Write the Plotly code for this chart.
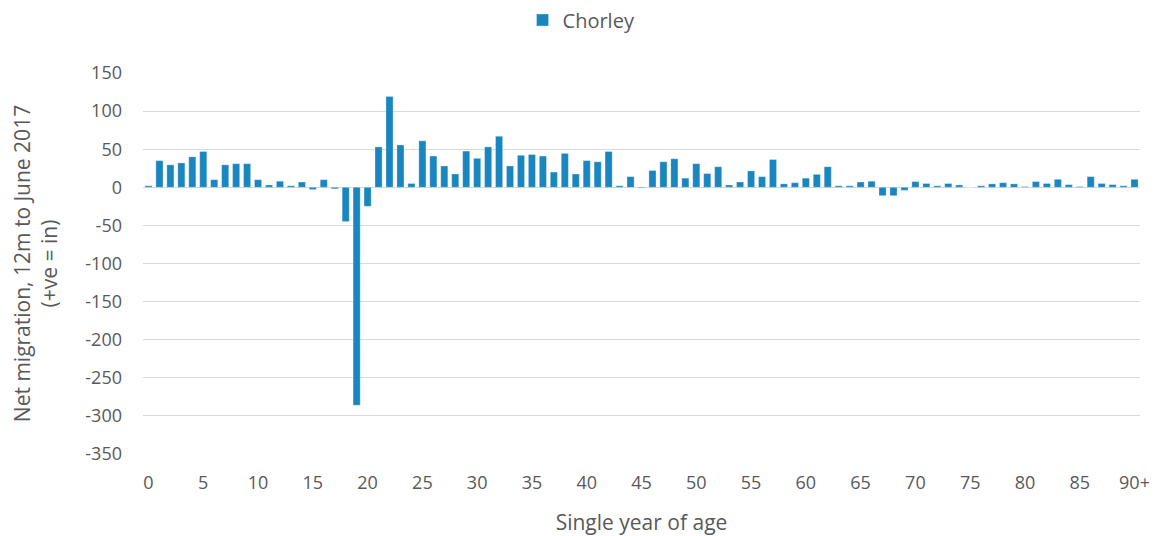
import plotly.graph_objects as go

ages = list(range(0, 91))
net_migration = [
    2, 35, 29.5, 32, 40, 47, 10, 29.5, 31, 31,
    10, 3, 8, 2, 7, -3, 10, -2, -45, -286,
    -25, 53, 119, 55.5, 5, 61, 41, 28, 17.5, 47.5,
    38, 53, 67, 28, 42, 43, 41, 20, 44.5, 17.5,
    35, 33.5, 47, 2, 14, -1, 22, 33.5, 37.5, 12,
    31, 18, 27, 3, 7, 21.5, 14, 36.5, 4.5, 6,
    12, 17, 27, 2, 2, 7, 8, -11, -11, -4,
    7.5, 5, 2, 5, 3, 0, 2, 4.5, 6, 4.5,
    1, 7.5, 5, 10.5, 3.5, 1, 14, 5, 3.5, 2, 10.5,
]
x_tick_vals = list(range(0, 91, 5))
x_tick_text = [str(v) for v in range(0, 90, 5)] + ["90+"]
y_tick_vals = list(range(-350, 151, 50))
y_tick_text = [str(v) for v in y_tick_vals]

font = "Open Sans, Liberation Sans, sans-serif"
grey = "#595959"
fig = go.Figure()
fig.add_trace(go.Bar(
    x=ages, y=net_migration, name="Chorley",
    marker=dict(color="#1a86c0", line=dict(width=0.6, color="rgba(255,255,255,0.5)")),
))
fig.update_layout(
    width=1154, height=528,
    margin=dict(l=135, r=22, t=65, b=82, autoexpand=False),
    paper_bgcolor="white", plot_bgcolor="white",
    bargap=0.35,
    showlegend=True,
    legend=dict(orientation="h", x=0.497, xanchor="center", xref="container",
                y=1 - 12 / 528, yanchor="middle",
                yref="container", font=dict(family=font, size=20, color=grey),
                itemwidth=30),
    font=dict(family=font, size=18, color=grey),
)
fig.update_xaxes(
    range=[-0.5, 90.5], tickvals=x_tick_vals, ticktext=x_tick_text,
    showgrid=False, zeroline=False, ticks="", ticklabelstandoff=16,
    automargin=False,
    tickfont=dict(size=18, color=grey),
    title=dict(text="Single year of age", font=dict(size=21, color=grey), standoff=22),
)
fig.update_yaxes(
    range=[-350, 150], tickvals=y_tick_vals, ticktext=y_tick_text,
    showgrid=True, gridcolor="#d9d9d9", gridwidth=1.3,
    zeroline=True, zerolinecolor="#d9d9d9", zerolinewidth=1.3,
    ticks="", ticklabelstandoff=20, automargin=False,
    tickfont=dict(size=18, color=grey),
    title=dict(text="Net migration, 12m to June 2017<br>(+ve = in)",
               font=dict(size=21, color=grey), standoff=22),
)
fig.write_html("out.html")
